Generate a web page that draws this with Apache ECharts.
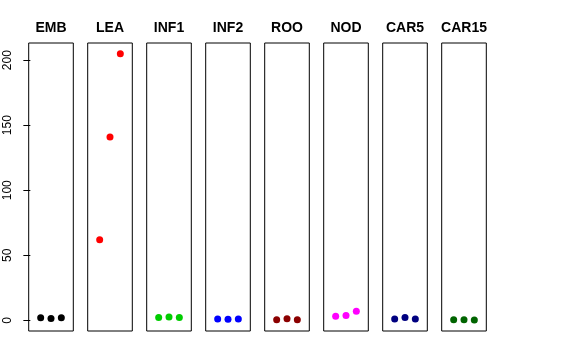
<!DOCTYPE html>
<html><head><meta charset="utf-8">
<script src="https://cdn.jsdelivr.net/npm/echarts@6/dist/echarts.min.js"></script>
<style>html,body{margin:0;padding:0;background:#fff}#c{width:576px;height:360px}</style>
</head><body><div id="c"></div>
<script>
var panels = ["EMB","LEA","INF1","INF2","ROO","NOD","CAR5","CAR15"];
var colors = ["#000000","#FF0000","#00CD00","#0000FF","#8B0000","#FF00FF","#000080","#006400"];
var xPos = [1,2,3];
var EMB = [2.0, 1.5, 2.0];
var LEA = [62, 141, 205];
var INF1 = [2.2, 2.6, 2.2];
var INF2 = [1.0, 0.8, 1.0];
var ROO = [0.5, 1.2, 0.4];
var NOD = [3.1, 3.8, 6.9];
var CAR5 = [1.0, 2.1, 1.0];
var CAR15 = [0.5, 0.5, 0.3];
var yTicks = [0, 50, 100, 150, 200];
var values = [EMB, LEA, INF1, INF2, ROO, NOD, CAR5, CAR15];

var font = "'Liberation Sans', Arial, sans-serif";
var grids = [], xAxes = [], yAxes = [], series = [], titles = [];
var left0 = 28.7, step = 59, w = 44.6;
panels.forEach(function(name, i){
  var L = left0 + step*i;
  grids.push({left: L, top: 43, width: w, height: 288, show: true, borderColor: '#000', borderWidth: 1, backgroundColor: 'transparent'});
  xAxes.push({type:'value', gridIndex:i, min:-0.16, max:4.16, show:false});
  var first = i === 0;
  yAxes.push({type:'value', gridIndex:i, min:-8.2, max:213.2, show: first,
    splitLine:{show:false}, axisLine:{show:false},
    axisTick:{show:first, length:7, lineStyle:{color:'#000'}, customValues: yTicks},
    axisLabel:{show:first, rotate:90, margin:15, color:'#000', fontSize:12, fontFamily:font, customValues: yTicks}
  });
  titles.push({text:name, left: L + w/2, top: 21, textAlign:'center', padding:0,
    textStyle:{fontSize:14, fontWeight:'bold', color:'#000', fontFamily:font}});
  series.push({type:'scatter', xAxisIndex:i, yAxisIndex:i, symbolSize:7,
    itemStyle:{color:colors[i], opacity:1},
    data: xPos.map(function(x,k){return [x, values[i][k]];})});
});
var chart = echarts.init(document.getElementById('c'), null, {renderer:'canvas'});
chart.setOption({animation:false, title:titles, grid:grids, xAxis:xAxes, yAxis:yAxes, series:series});
</script></body></html>
